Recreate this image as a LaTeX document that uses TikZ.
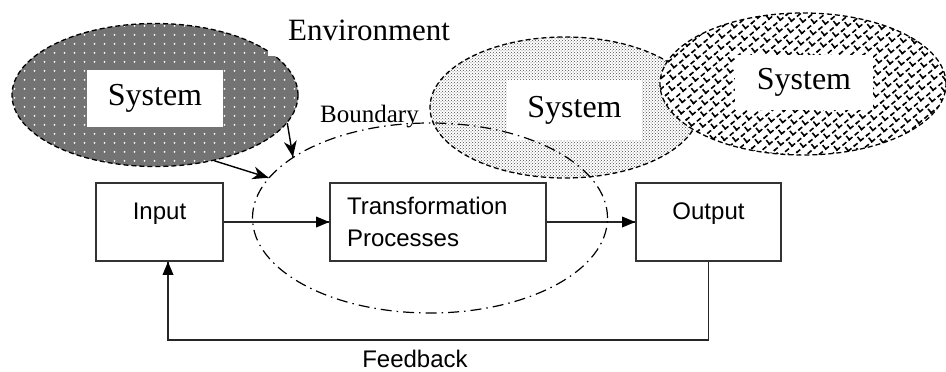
\documentclass[tikz,border=0pt]{standalone}
\usepackage{fontspec}
\setmainfont{Liberation Serif}
\newfontfamily\boxfont{Liberation Sans}
\usetikzlibrary{shapes.geometric,calc,patterns,patterns.meta}

\tikzdeclarepattern{
  name=whitedots,
  type=uncolored,
  bounding box={(0pt,0pt) and (10pt,9pt)},
  tile size={(10pt,9pt)},
  code={\fill (5pt,4.5pt) circle (1.1pt);}
}
\tikzdeclarepattern{
  name=slantbricks,
  type=uncolored,
  bounding box={(-1pt,-1pt) and (17pt,17pt)},
  tile size={(16pt,16pt)},
  tile transformation={rotate=40},
  code={
    \draw[line width=1.6pt] (-1pt,0pt) -- (17pt,0pt) (-1pt,8pt) -- (17pt,8pt)
      (0pt,0pt) -- (0pt,8pt) (8pt,8pt) -- (8pt,16pt);
  }
}

% head at #2 for a connector coming from #1: length, half width, inset
\newcommand{\tiphead}[5]{%
  \path ($(#2)!#3!(#1)$) coordinate (tipbase) ($(#2)!#5!(#1)$) coordinate (tipin);
  \fill (#2) -- ($(tipbase)!#4!90:(#2)$) -- (tipin) -- ($(tipbase)!#4!-90:(#2)$) -- cycle;}

\tikzset{
  sysblob/.style={ellipse, draw, line width=1.3pt, dash pattern=on 5pt off 3pt, inner sep=0pt},
  syslabel/.style={fill=white, inner sep=0pt, minimum width=136pt, minimum height=57pt,
    font=\fontsize{32}{38}\selectfont},
  procbox/.style={draw=black!80, line width=1.6pt, minimum height=78pt, inner sep=0pt,
    font=\boxfont\fontsize{24}{32}\selectfont},
  flowline/.style={line width=1.5pt, black!85},
  impact/.style={line width=1.4pt}
}

\begin{document}
\begin{tikzpicture}[x=1pt,y=1pt]
  \useasboundingbox (0,-372) rectangle (946,0);

  \node[sysblob, minimum width=286pt, minimum height=143pt, preaction={fill=black!55},
    pattern=whitedots, pattern color=white] (envsys) at (155,-95) {};
  \node[syslabel] (envsyslbl) at (155,-98.5) {System};
  \node[fill=white, anchor=base west, inner xsep=20pt, inner ysep=16pt,
    font=\fontsize{31}{36}\selectfont] (envlbl) at (268,-40) {Environment};

  \node[sysblob, minimum width=270pt, minimum height=141pt, preaction={fill=white},
    pattern=crosshatch dots, pattern color=black!70] (midsys) at (565,-107.5) {};
  \node[syslabel, minimum width=135pt, minimum height=60pt] (midsyslbl) at (574.5,-110) {System};

  \node[sysblob, minimum width=286pt, minimum height=142pt, preaction={fill=white},
    pattern=slantbricks] (farsys) at (803,-84) {};
  \node[syslabel, minimum width=138pt, minimum height=55pt] (farsyslbl) at (804,-82.5) {System};

  \node[anchor=base west, inner sep=0pt, font=\fontsize{25}{30}\selectfont] (bndlbl) at (320,-122.7) {Boundary};

  \node[procbox, minimum width=127pt, text height=36pt, text depth=42pt] (inp) at (159.5,-222) {Input};
  \node[procbox, minimum width=216pt, text width=182pt, inner xsep=17pt, align=left] (trans) at (438,-222)
    {Transformation\\Processes};
  \node[procbox, minimum width=145pt, text height=36pt, text depth=42pt] (outp) at (708.5,-222) {Output};

  \coordinate (fbin) at ([xshift=8.5pt]inp.south);
  \coordinate (fbcorner) at ($(fbin |- outp.south)+(0,-78)$);
  \draw[flowline] (inp) -- (trans);
  \draw[flowline] (trans) -- (outp);
  \draw[flowline] (outp.south) |- (fbcorner) -- (fbin);
  \tiphead{inp.east}{trans.west}{13pt}{5.5pt}{13pt}
  \tiphead{trans.east}{outp.west}{13pt}{5.5pt}{13pt}
  \tiphead{fbcorner}{fbin}{13pt}{5.5pt}{13pt}
  \node[anchor=base, inner sep=0pt, font=\boxfont\fontsize{24}{32}\selectfont] (fblbl) at (415,-367) {Feedback};

  \node[ellipse, draw, line width=1.2pt, dash pattern=on 11pt off 5pt on 1.5pt off 5pt,
    minimum width=355pt, minimum height=190pt, inner sep=0pt] (bnd) at (430,-218) {};

  \draw[impact] (envsys.-12) -- (bnd.156);
  \draw[impact] (envsys.-48) -- (bnd.166);
  \tiphead{envsys.-12}{bnd.156}{16pt}{6.5pt}{11pt}
  \tiphead{envsys.-48}{bnd.166}{16pt}{6.5pt}{11pt}
\end{tikzpicture}
\end{document}
